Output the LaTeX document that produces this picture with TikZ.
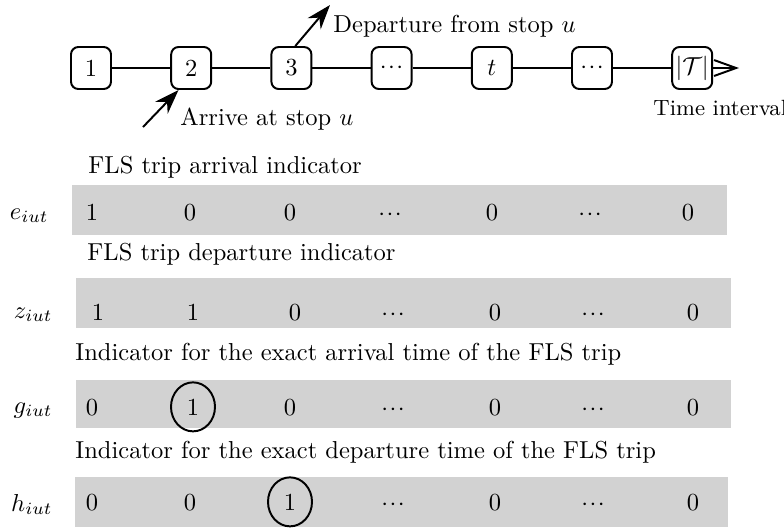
\documentclass[tikz,border=0pt]{standalone}
\usetikzlibrary{arrows.meta,shapes.geometric}
\def\pxu{0.408pt}
\newcommand\dts{${\cdot}\kern.6pt{\cdot}\kern.6pt{\cdot}$}
\tikzset{
  slot/.style={draw, thick, rounded corners=3pt,
    minimum width=40*\pxu, minimum height=42*\pxu, inner sep=0pt},
  bar/.style={fill=gray!35, inner sep=0pt, minimum height=50*\pxu},
  pick/.style={draw, thick, ellipse,
    minimum width=44*\pxu, minimum height=49*\pxu, inner sep=0pt},
  tip/.style={thick, -{Stealth[length=10pt,width=7pt]}},
  ttl/.style={anchor=base west, inner sep=0pt},
  var/.style={anchor=base east, inner sep=0pt},
}
\begin{document}
\begin{tikzpicture}[x=\pxu, y=-\pxu]
    \useasboundingbox (0,0) rectangle (784,527);

    \foreach \lab [count=\i] in {1,2,3,\dts,$t$,\dts,$|\mathcal{T}|$}
      \node[slot] (s\i) at ({91+100.2*(\i-1)},68) {\lab};
    \foreach \i [evaluate=\i as \j using int(\i+1)] in {1,...,6}
      \draw[thick] (s\i) -- (s\j);
    \coordinate (tend) at (739,68);
    \draw[thick, -{Straight Barb[length=9pt,width=6.5pt]}] (s7) -- (tend);

    \coordinate (depend) at (330,5);
    \draw[tip] (s3.80) -- (depend);
    \coordinate (arrstart) at (143,127);
    \draw[tip] (arrstart) -- (s2.240);

    \node[ttl] (deplab) at (333,32) {Departure from stop $u$};
    \node[ttl] (arrlab) at (180,125) {Arrive at stop $u$};
    \node[ttl, font=\small] (timelab) at (653,115) {Time interval};

    \node[bar, minimum width=655*\pxu] (ebar) at (399.5,210) {};
    \node[bar, minimum width=655*\pxu] (zbar) at (403.5,303) {};
    \node[bar, minimum width=655*\pxu, minimum height=48*\pxu] (gbar) at (403.5,404) {};
    \node[bar, minimum width=653*\pxu] (hbar) at (401.5,502) {};

    \node[ttl] (etitle) at (88,173) {FLS trip arrival indicator};
    \node[ttl] (ztitle) at (87,260) {FLS trip departure indicator};
    \node[ttl] (gtitle) at (75,360) {Indicator for the exact arrival time of the FLS trip};
    \node[ttl] (htitle) at (75,458) {Indicator for the exact departure time of the FLS trip};

    \node[var] (elab) at (49,219) {$e_{iut}$};
    \node[var] (zlab) at (53,318) {$z_{iut}$};
    \node[var] (glab) at (53,413) {$g_{iut}$};
    \node[var] (hlab) at (53,511) {$h_{iut}$};

    \foreach \v/\x [count=\i] in {1/92,0/190,0/290,\dts/390,0/492,\dts/590,0/688}
      \node[anchor=base] (e\i) at (\x,220) {\v};
    \foreach \v/\x [count=\i] in {1/98,1/193,0/295,\dts/393,0/495,\dts/593,0/693}
      \node[anchor=base] (z\i) at (\x,320) {\v};
    \foreach \v/\x/\s [count=\i] in {0/92/,1/193/pick,0/290/,\dts/393/,0/495/,\dts/593/,0/693/}
      \node[anchor=base, \s] (g\i) at (\x,415) {\v};
    \foreach \v/\x/\s [count=\i] in {0/92/,0/190/,1/290/pick,\dts/393/,0/495/,\dts/593/,0/693/}
      \node[anchor=base, \s] (h\i) at (\x,510) {\v};
\end{tikzpicture}
\end{document}
